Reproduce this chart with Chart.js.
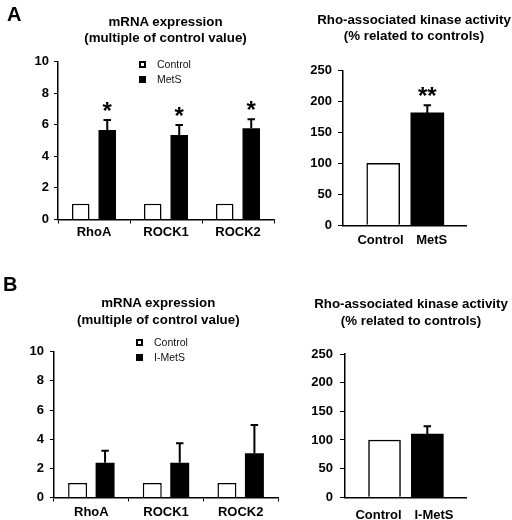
<!DOCTYPE html>
<html><head><meta charset="utf-8">
<script src="https://cdn.jsdelivr.net/npm/chart.js@4.4.1/dist/chart.umd.min.js"></script>
<style>
html,body{margin:0;padding:0;background:#fff;}
#wrap{position:relative;width:512px;height:520px;overflow:hidden;font-family:"Liberation Sans",Arial,sans-serif;background:#fff;}
canvas{position:absolute;left:0;top:0;}
.t{position:absolute;font-weight:bold;font-size:13.3px;text-align:center;white-space:nowrap;color:#000;transform:translateX(-50%);}
.letter{position:absolute;font-weight:bold;font-size:20px;line-height:20px;color:#000;}
.lg{position:absolute;font-size:10.5px;line-height:15px;height:15px;color:#111;white-space:nowrap;}
.sq{position:absolute;top:4px;left:0;box-sizing:border-box;width:7px;height:7px;border:2px solid #000;background:#fff;}
.sq.f{background:#000;}
.lg span.tx{position:absolute;top:0;white-space:nowrap;}
</style></head>
<body>
<div id="wrap">
  <canvas id="cA1" width="512" height="520"></canvas>
  <canvas id="cA2" width="512" height="520"></canvas>
  <canvas id="cB1" width="512" height="520"></canvas>
  <canvas id="cB2" width="512" height="520"></canvas>

  <div class="letter" style="left:7px;top:4px;">A</div>
  <div class="letter" style="left:3px;top:274px;">B</div>

  <div class="t" style="left:165.5px;top:13.5px;line-height:16px;">mRNA expression<br>(multiple of control value)</div>
  <div class="t" style="left:414px;top:12px;line-height:15.5px;">Rho-associated kinase activity<br>(% related to controls)</div>
  <div class="t" style="left:158.3px;top:294px;line-height:17px;">mRNA expression<br>(multiple of control value)</div>
  <div class="t" style="left:411px;top:295px;line-height:17px;">Rho-associated kinase activity<br>(% related to controls)</div>

  <div class="lg" style="left:139px;top:57px;width:80px;"><span class="sq"></span><span class="tx" style="left:18px;" id="lgA1"></span></div>
  <div class="lg" style="left:139px;top:72px;width:80px;"><span class="sq f"></span><span class="tx" style="left:18px;" id="lgA2"></span></div>
  <div class="lg" style="left:135.5px;top:335px;width:80px;"><span class="sq"></span><span class="tx" style="left:18.5px;" id="lgB1"></span></div>
  <div class="lg" style="left:135.5px;top:350px;width:80px;"><span class="sq f"></span><span class="tx" style="left:18.5px;" id="lgB2"></span></div>
</div>
<script>
// ---------------- DATA ----------------
const genesA = ['RhoA', 'ROCK1', 'ROCK2'];
const seriesNamesA = ['Control', 'MetS'];
const mrnaControlA = [1, 1, 1];
const mrnaMetS = [5.66, 5.35, 5.77];
const mrnaMetSErr = [0.64, 0.63, 0.57];
const mrnaMetSSig = ['*', '*', '*'];

const kinaseGroupsA = ['Control', 'MetS'];
const kinaseA = [100, 181.5];
const kinaseAErr = [0, 12.5];
const kinaseASig = ['', '**'];

const genesB = ['RhoA', 'ROCK1', 'ROCK2'];
const seriesNamesB = ['Control', 'I-MetS'];
const mrnaControlB = [1, 1, 1];
const mrnaIMetS = [2.39, 2.39, 3.03];
const mrnaIMetSErr = [0.82, 1.33, 1.94];

const kinaseGroupsB = ['Control', 'I-MetS'];
const kinaseB = [100, 110.5];
const kinaseBErr = [0, 13.5];

const mrnaTicks = [0, 2, 4, 6, 8, 10];
const kinaseTicks = [0, 50, 100, 150, 200, 250];

// ---------------- HELPERS ----------------
const FONT = '"Liberation Sans", Arial, sans-serif';
const W = 512, H = 520;
document.getElementById('lgA1').textContent = seriesNamesA[0];
document.getElementById('lgA2').textContent = seriesNamesA[1];
document.getElementById('lgB1').textContent = seriesNamesB[0];
document.getElementById('lgB2').textContent = seriesNamesB[1];

const errPlugin = {
  id: 'errBars',
  afterDatasetsDraw(chart) {
    const ctx = chart.ctx, ys = chart.scales.y;
    chart.data.datasets.forEach((ds, di) => {
      if (!ds.errUp) return;
      const meta = chart.getDatasetMeta(di);
      meta.data.forEach((el, i) => {
        const raw = ds.data[i];
        const val = (typeof raw === 'object') ? raw.y : raw;
        const e = ds.errUp[i] || 0;
        const top = ys.getPixelForValue(val + e);
        ctx.save();
        if (e > 0) {
          ctx.strokeStyle = '#000';
          ctx.lineWidth = 2;
          ctx.beginPath();
          ctx.moveTo(el.x, el.y);
          ctx.lineTo(el.x, top);
          ctx.moveTo(el.x - 3.75, top);
          ctx.lineTo(el.x + 3.75, top);
          ctx.stroke();
        }
        const m = ds.marks && ds.marks[i];
        if (m) {
          const fs = 24;
          ctx.fillStyle = '#000';
          ctx.font = 'bold ' + fs + 'px ' + FONT;
          ctx.textAlign = 'center';
          ctx.textBaseline = 'alphabetic';
          ctx.fillText(m, el.x, top - 15.5 + 0.585 * fs);
        }
        ctx.restore();
      });
    });
  }
};

function yAxis(max, step, yw, tl, pad) {
  return {
    min: 0, max: max,
    afterBuildTicks: (s) => { s.ticks = (max === 10 ? mrnaTicks : kinaseTicks).map(v => ({ value: v })); },
    ticks: { stepSize: step, color: '#000', padding: pad, font: { family: FONT, size: 13, weight: 'bold' } },
    grid: { display: true, drawOnChartArea: false, drawTicks: true, tickLength: tl, color: '#000', lineWidth: 1 },
    border: { display: true, color: '#000', width: 1.5 },
    afterFit: (s) => { s.width = yw; }
  };
}

function groupedChart(id, area, cats, names, ctrl, grp, grpErr, grpSig, barPct, xPad) {
  const yw = 40, xh = 30;
  new Chart(document.getElementById(id), {
    type: 'bar',
    data: {
      labels: cats,
      datasets: [
        { label: names[0], data: ctrl, backgroundColor: '#fff', borderColor: '#000', borderWidth: 1.5,
          categoryPercentage: 0.736, barPercentage: barPct },
        { label: names[1], data: grp, backgroundColor: '#000', borderColor: '#000', borderWidth: 0,
          categoryPercentage: 0.736, barPercentage: barPct, errUp: grpErr, marks: grpSig }
      ]
    },
    options: {
      responsive: false, animation: false, devicePixelRatio: 1,
      layout: { padding: { left: area.l - yw, right: W - area.r, top: area.t, bottom: H - area.b - xh } },
      plugins: { legend: { display: false }, tooltip: { enabled: false }, title: { display: false } },
      scales: {
        x: {
          type: 'category', offset: true,
          ticks: { color: '#000', padding: xPad, autoSkip: false, maxRotation: 0, font: { family: FONT, size: 13, weight: 'bold' } },
          grid: { offset: true, drawOnChartArea: false, drawTicks: true, tickLength: 4, color: '#000', lineWidth: 1 },
          border: { display: true, color: '#000', width: 1.5 },
          afterFit: (s) => { s.height = xh; }
        },
        y: yAxis(10, 2, yw, 4, area.ypad)
      }
    },
    plugins: [errPlugin]
  });
}

function pairChart(id, area, cats, vals, errs, sig, xmin, xmax, thick, xPad, labelShift) {
  const yw = 50, xh = 30;
  new Chart(document.getElementById(id), {
    type: 'bar',
    data: {
      datasets: [
        { data: cats.map((c, i) => ({ x: i + 1, y: vals[i] })),
          backgroundColor: cats.map((c, i) => i === 0 ? '#fff' : '#000'),
          borderColor: '#000', borderWidth: cats.map((c, i) => i === 0 ? 1.5 : 0),
          barThickness: thick, errUp: errs, marks: sig }
      ]
    },
    options: {
      responsive: false, animation: false, devicePixelRatio: 1,
      layout: { padding: { left: area.l - yw, right: W - area.r, top: area.t, bottom: H - area.b - xh } },
      plugins: { legend: { display: false }, tooltip: { enabled: false }, title: { display: false } },
      scales: {
        x: {
          type: 'linear', offset: false, bounds: 'data', min: xmin, max: xmax,
          afterBuildTicks: (s) => { s.ticks = cats.map((c, i) => ({ value: i + 1 + labelShift[i] })); },
          ticks: { callback: (v, idx) => cats[idx], color: '#000', padding: xPad, autoSkip: false, maxRotation: 0,
                   font: { family: FONT, size: 13, weight: 'bold' } },
          grid: { display: false, drawTicks: false },
          border: { display: true, color: '#000', width: 1.5 },
          afterFit: (s) => { s.height = xh; }
        },
        y: yAxis(250, 50, yw, 5, area.ypad)
      }
    },
    plugins: [errPlugin]
  });
}

groupedChart('cA1', { l: 58, r: 274, t: 61.5, b: 219.5, ypad: 5 }, genesA, seriesNamesA,
  mrnaControlA, mrnaMetS, mrnaMetSErr, mrnaMetSSig, 0.66, 1);
pairChart('cA2', { l: 343, r: 466.7, t: 70.5, b: 225.3, ypad: 6 }, kinaseGroupsA, kinaseA, kinaseAErr, kinaseASig,
  0.088, 2.893, 33, 7, [-0.06, 0.1]);
groupedChart('cB1', { l: 54, r: 278, t: 351.7, b: 497.5, ypad: 6 }, genesB, seriesNamesB,
  mrnaControlB, mrnaIMetS, mrnaIMetSErr, null, 0.69, 3);
pairChart('cB2', { l: 345, r: 466.7, t: 354, b: 497.3, ypad: 7 }, kinaseGroupsB, kinaseB, kinaseBErr, null,
  0.077, 2.92, 32, 10, [-0.14, 0.156]);
</script>
</body></html>
